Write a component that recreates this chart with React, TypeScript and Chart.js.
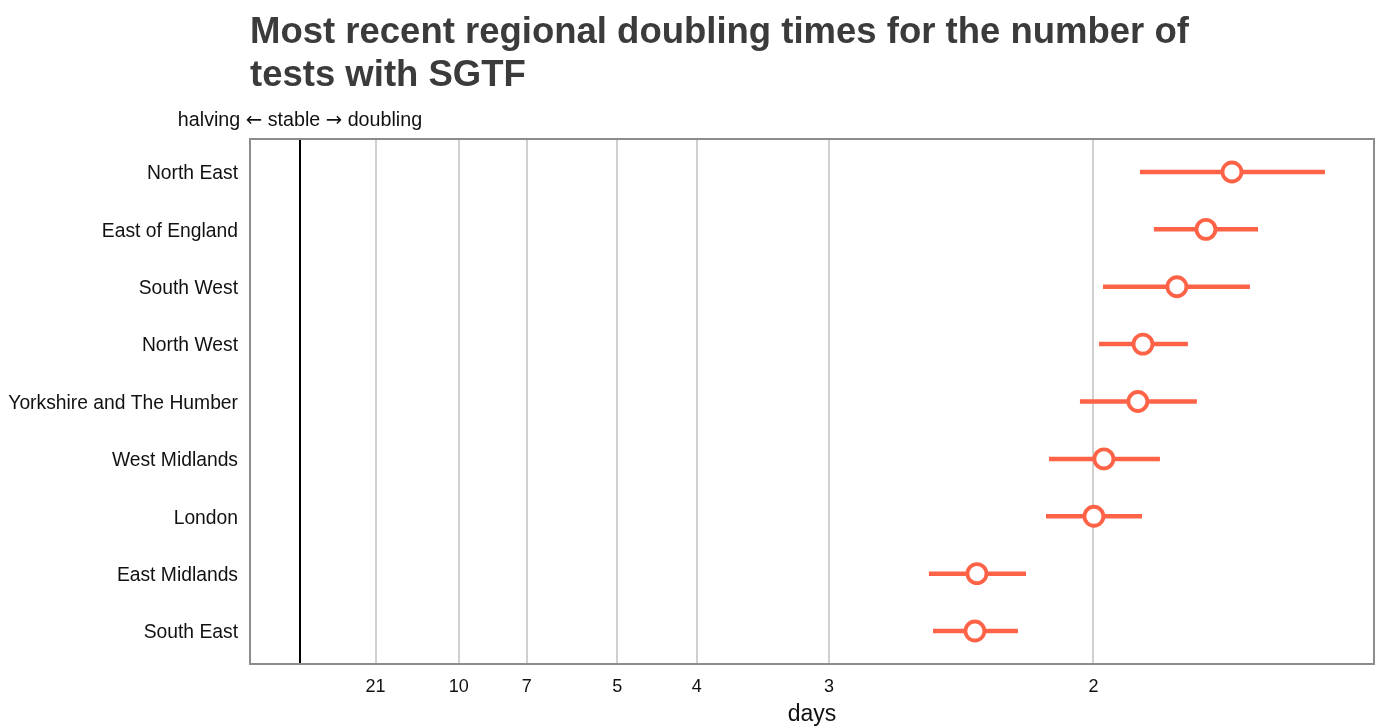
import { useEffect, useRef } from "react";
import { Chart, registerables } from "chart.js";

Chart.register(...registerables);

// Regions, top to bottom
const REGIONS = [
  "North East",
  "East of England",
  "South West",
  "North West",
  "Yorkshire and The Humber",
  "West Midlands",
  "London",
  "East Midlands",
  "South East",
];
// Growth expressed as doublings per day (1 / doubling time in days)
const RATE_MID = [0.5873, 0.5709, 0.5526, 0.5312, 0.528, 0.5066, 0.5003, 0.4266, 0.4253];
const RATE_LO = [0.5293, 0.5381, 0.506, 0.5035, 0.4915, 0.472, 0.4701, 0.3963, 0.3989];
const RATE_HI = [0.6459, 0.6037, 0.5986, 0.5595, 0.5652, 0.5419, 0.5306, 0.4575, 0.4524];
// Doubling-time tick labels (days)
const TICK_DAYS = [21, 10, 7, 5, 4, 3, 2];

const TITLE_LINES = ["Most recent regional doubling times for the number of", "tests with SGTF"];
const TOP_LABEL_PARTS = ["halving ", "\u2190", " stable ", "\u2192", " doubling"];
const COLOR = "#ff6347";
const FONT = "'Liberation Sans', Arial, Helvetica, sans-serif";
const ARROW_FONT = "'DejaVu Sans', 'Liberation Sans', sans-serif";

const decorPlugin = {
  id: "decor",
  beforeDatasetsDraw(chart: any) {
    const { ctx, chartArea: a, scales } = chart;
    ctx.save();
    // frame
    ctx.strokeStyle = "#8c8c8c";
    ctx.lineWidth = 2;
    ctx.strokeRect(a.left, a.top, a.right - a.left, a.bottom - a.top);
    // error bars
    ctx.strokeStyle = COLOR;
    ctx.lineWidth = 4.5;
    ctx.lineCap = "butt";
    REGIONS.forEach((_, i) => {
      const y = scales.y.getPixelForValue(i);
      ctx.beginPath();
      ctx.moveTo(scales.x.getPixelForValue(RATE_LO[i]), y);
      ctx.lineTo(scales.x.getPixelForValue(RATE_HI[i]), y);
      ctx.stroke();
    });
    ctx.restore();
  },
  afterDraw(chart: any) {
    const { ctx, chartArea: a, scales } = chart;
    ctx.save();
    ctx.fillStyle = "#3b3b3b";
    ctx.font = `bold 36.5px ${FONT}`;
    ctx.textAlign = "left";
    ctx.textBaseline = "alphabetic";
    ctx.fillText(TITLE_LINES[0], a.left, 43);
    ctx.fillText(TITLE_LINES[1], a.left, 86);
    // top label, arrows in a font that centres them
    ctx.fillStyle = "#111";
    const fonts = TOP_LABEL_PARTS.map((p) => (p.length === 1 ? `19.7px ${ARROW_FONT}` : `19.7px ${FONT}`));
    const widths = TOP_LABEL_PARTS.map((p, i) => {
      ctx.font = fonts[i];
      return ctx.measureText(p).width;
    });
    const total = widths.reduce((s, w) => s + w, 0);
    let x = scales.x.getPixelForValue(0) - total / 2;
    TOP_LABEL_PARTS.forEach((p, i) => {
      ctx.font = fonts[i];
      ctx.fillText(p, x, 126);
      x += widths[i];
    });
    ctx.restore();
  },
};

export default function App() {
  const ref = useRef<HTMLCanvasElement | null>(null);
  useEffect(() => {
    document.body.style.margin = "0";
    Chart.defaults.font.family = FONT;
    const tickVals = [0, ...TICK_DAYS.map((d) => 1 / d)];
    const chart = new Chart(ref.current as HTMLCanvasElement, {
      type: "scatter",
      data: {
        datasets: [
          {
            data: RATE_MID.map((x, i) => ({ x, y: i })),
            pointRadius: 9.5,
            pointHoverRadius: 9.5,
            pointBorderWidth: 3.8,
            pointBackgroundColor: "#ffffff",
            pointBorderColor: COLOR,
            showLine: false,
          },
        ],
      },
      options: {
        animation: false,
        responsive: false,
        layout: { autoPadding: false, padding: { top: 139, right: 5, left: 0, bottom: 0 } },
        plugins: { legend: { display: false }, tooltip: { enabled: false }, title: { display: false } },
        scales: {
          x: {
            type: "linear",
            min: -0.0315,
            max: 0.6768,
            afterBuildTicks: (s: any) => {
              s.ticks = tickVals.map((v) => ({ value: v }));
            },
            afterFit: (s: any) => {
              s.height = 62;
              s.paddingLeft = 0;
              s.paddingRight = 0;
            },
            grid: {
              color: (c: any) => (c.tick && c.tick.value === 0 ? "#000000" : "#d0d0d0"),
              lineWidth: 2,
              drawTicks: false,
            },
            border: { display: false },
            ticks: {
              autoSkip: false,
              maxRotation: 0,
              padding: 12,
              color: "#111",
              font: { size: 18 },
              callback: (v: any) => {
                const d = TICK_DAYS.find((dd) => Math.abs(1 / dd - v) < 1e-9);
                return d === undefined ? "" : String(d);
              },
            },
            title: { display: true, text: "days", color: "#111", font: { size: 23 }, padding: { top: 0, bottom: -2 } },
          },
          y: {
            type: "linear",
            reverse: true,
            min: -0.575,
            max: 8.575,
            afterBuildTicks: (s: any) => {
              s.ticks = REGIONS.map((_, i) => ({ value: i }));
            },
            afterFit: (s: any) => {
              s.width = 250;
              s.paddingTop = 0;
              s.paddingBottom = 0;
            },
            grid: { display: false, drawTicks: false },
            border: { display: false },
            ticks: {
              autoSkip: false,
              padding: 12,
              labelOffset: 2,
              color: "#111",
              font: { size: 19.3 },
              callback: (v: any) => REGIONS[v] ?? "",
            },
          },
        },
      },
      plugins: [decorPlugin],
    });
    return () => chart.destroy();
  }, []);
  return <canvas ref={ref} width={1379} height={726} style={{ display: "block" }} />;
}
